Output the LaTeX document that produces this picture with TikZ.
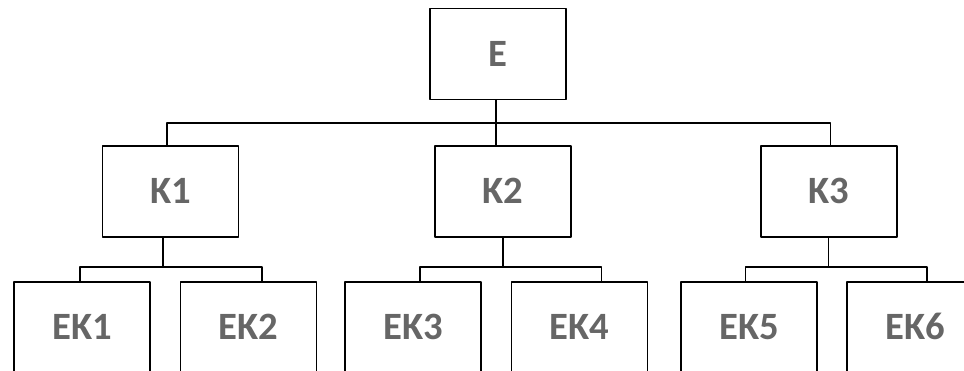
\documentclass[tikz,border=0pt]{standalone}
\usepackage{fontspec}
\setmainfont{Carlito}
\usetikzlibrary{calc}
\definecolor{labelgray}{HTML}{666666}

\begin{document}
\begin{tikzpicture}[line cap=round,line join=round,x=0.02cm,y=-0.02cm,
  box/.style={draw=black,fill=white,line width=0.9pt,minimum width=2.72cm,minimum height=1.82cm,inner sep=0pt,
    text height=14.2pt,text depth=0pt,text=labelgray,font=\fontsize{22}{26}\selectfont\bfseries},
  link/.style={line width=0.9pt,line cap=butt}]
\clip (0,0) rectangle (964,371);
%\draw[help lines] (0,0) grid (964,371);
% top level
\node[box] (E) at (498,54) {E};
% middle level
\node[box] (K1) at (170.5,191.5) {K1};
\node[box] (K2) at (503,191.5) {K2};
\node[box] (K3) at (829,191.5) {K3};
% bottom level (cut off by the page edge)
\node[box] (EK1) at (82,327.5) {EK1};
\node[box] (EK2) at (248.5,327.5) {EK2};
\node[box] (EK3) at (413,327.5) {EK3};
\node[box] (EK4) at (579.5,327.5) {EK4};
\node[box] (EK5) at (749,327.5) {EK5};
\node[box] (EK6) at (915,327.5) {EK6};
% E to K
\draw[link] ($(E.south)+(-2,0)$) -- ++(0,23) coordinate (t0);
\draw[link] ($(K1.north)+(-3.5,0)$) |- (t0) -| ($(K3.north)+(1.5,0)$);
\draw[link] (t0) -- (t0 |- K2.north);
% K1 to EK1, EK2
\draw[link] ($(K1.south)+(-7.5,0)$) -- ++(0,29) coordinate (s1);
\draw[link] ($(EK1.north)+(-2,0)$) |- (s1) -| ($(EK2.north)+(13.5,0)$);
% K2 to EK3, EK4
\draw[link] (K2.south) -- ++(0,29) coordinate (s2);
\draw[link] ($(EK3.north)+(7,0)$) |- (s2) -| ($(EK4.north)+(22,0)$);
% K3 to EK5, EK6
\draw[link] ($(K3.south)+(-0.5,0)$) -- ++(0,29) coordinate (s3);
\draw[link] ($(EK5.north)+(-3.5,0)$) |- (s3) -| ($(EK6.north)+(12,0)$);
\end{tikzpicture}
\end{document}
